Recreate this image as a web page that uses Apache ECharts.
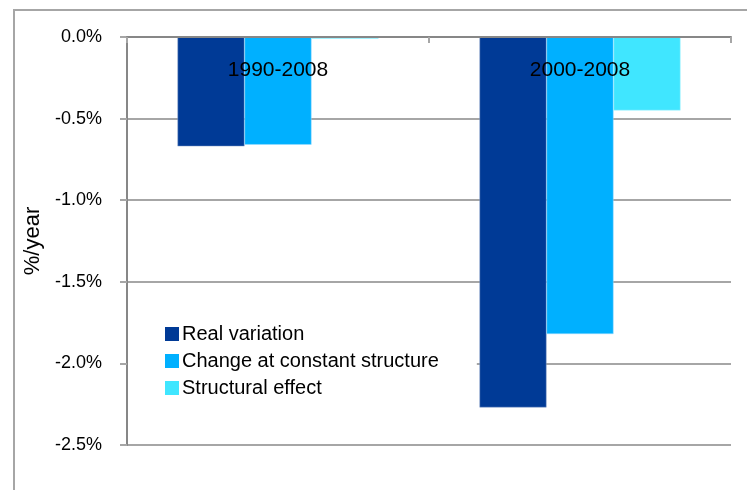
<!DOCTYPE html>
<html>
<head>
<meta charset="utf-8">
<script src="https://cdn.jsdelivr.net/npm/echarts@6/dist/echarts.min.js"></script>
<style>
  html, body { margin: 0; padding: 0; background: #fff; }
  #frame { position: absolute; left: 13px; top: 9px; width: 760px; height: 500px; border: 2px solid #a6a6a6; box-sizing: border-box; }
  #chart { position: absolute; left: 0; top: 0; width: 747px; height: 490px; }
</style>
</head>
<body>
<div id="frame"></div>
<div id="chart"></div>
<script>
// Periods compared
const periods = ['1990-2008', '2000-2008'];
// Average annual change, %/year
const realVariation = [-0.67, -2.27];
const constantStructure = [-0.66, -1.82];
const structuralEffect = [-0.01, -0.45];
// Value axis ticks
const yTicks = { min: -2.5, max: 0, step: 0.5 };

const chart = echarts.init(document.getElementById('chart'), null, { renderer: 'canvas' });

const font = '"Liberation Sans", Arial, sans-serif';

chart.setOption({
  backgroundColor: 'transparent',
  animation: false,
  grid: { left: 127, right: 16, top: 37, bottom: 45, containLabel: false },
  legend: {
    orient: 'vertical',
    left: 128,
    top: 313,
    padding: [11, 38, 10, 37],
    backgroundColor: '#ffffff',
    itemWidth: 14,
    itemHeight: 14,
    itemGap: 7,
    icon: 'rect',
    itemStyle: { borderWidth: 0 },
    textStyle: { fontFamily: font, fontSize: 20, color: '#000', padding: [0, 0, 0, -2] },
    data: ['Real variation', 'Change at constant structure', 'Structural effect']
  },
  xAxis: {
    type: 'category',
    position: 'top',
    data: periods,
    z: 10,
    axisLine: { show: true, onZero: false, lineStyle: { color: '#878787', width: 2 } },
    axisTick: { show: true, inside: true, length: 6, lineStyle: { color: '#a6a6a6', width: 2 } },
    axisLabel: { inside: true, margin: 23, fontFamily: font, fontSize: 21, color: '#000' },
    splitLine: { show: false }
  },
  yAxis: {
    type: 'value',
    min: yTicks.min,
    max: yTicks.max,
    interval: yTicks.step,
    name: '%/year',
    nameLocation: 'middle',
    nameGap: 80,
    nameRotate: 90,
    nameTextStyle: { fontFamily: font, fontSize: 22, color: '#000' },
    axisLine: { show: true, lineStyle: { color: '#878787', width: 2 } },
    axisTick: { show: true, inside: false, length: 7, lineStyle: { color: '#a6a6a6', width: 2 } },
    axisLabel: {
      margin: 25,
      fontFamily: font,
      fontSize: 18,
      color: '#000',
      formatter: v => v.toFixed(1) + '%'
    },
    splitLine: { show: true, lineStyle: { color: '#a6a6a6', width: 2 } }
  },
  series: [
    {
      name: 'Real variation', type: 'bar', data: realVariation,
      barWidth: 67, barGap: '0%',
      itemStyle: { color: '#003a96', borderColor: '#8fa6cc', borderWidth: 0.5 }
    },
    {
      name: 'Change at constant structure', type: 'bar', data: constantStructure,
      barWidth: 67, barGap: '0%',
      itemStyle: { color: '#00b0ff', borderColor: '#9fdcff', borderWidth: 0.5 }
    },
    {
      name: 'Structural effect', type: 'bar', data: structuralEffect,
      barWidth: 67, barGap: '0%',
      itemStyle: { color: '#40e6ff', borderColor: '#a8f2ff', borderWidth: 0.5 }
    }
  ]
});
</script>
</body>
</html>
